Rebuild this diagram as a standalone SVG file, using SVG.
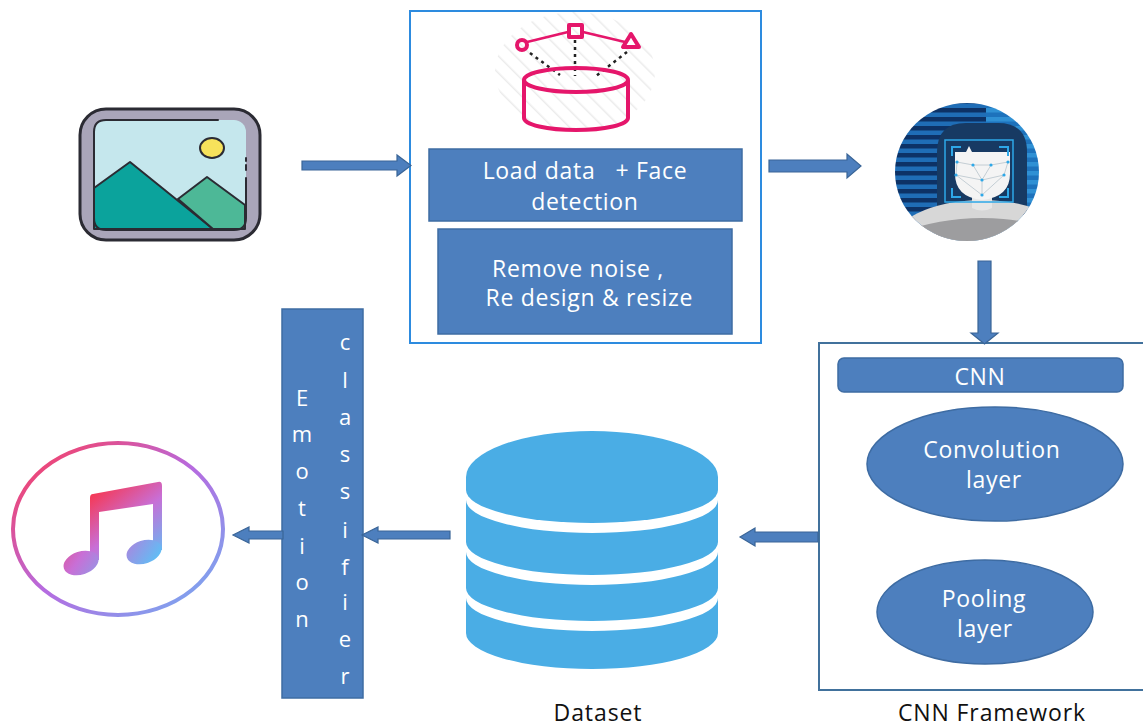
<svg xmlns="http://www.w3.org/2000/svg" width="1143" height="728" viewBox="0 0 1143 728">
  <style>
    .lbl { font-family: "Open Sans", "Liberation Sans", sans-serif; fill: #ffffff; font-size: 23px; letter-spacing: 0.7px; text-anchor: middle; white-space: pre; }
    .ltr { font-family: "Open Sans", "Liberation Sans", sans-serif; fill: #ffffff; font-size: 22px; text-anchor: middle; }
    .cap { font-family: "Open Sans", "Liberation Sans", sans-serif; fill: #111111; font-size: 23px; letter-spacing: 0.9px; text-anchor: middle; }
    .blk { fill: #4D7FBE; stroke: #3E6CA3; stroke-width: 1.5; }
    .arrow { fill: #4D7FBE; stroke: #3A6597; stroke-width: 1.2; }
    .pink { fill: none; stroke: #E5166B; stroke-width: 4; stroke-linejoin: round; }
    .dot { fill: none; stroke: #222222; stroke-width: 2.5; stroke-dasharray: 3 4; }
    .db { fill: #4AADE5; }
    .mesh { fill: none; stroke: #b8c4cc; stroke-width: 0.8; }
    .md { fill: #2EA8E8; }
    .ink { fill: none; stroke: #2B2B33; stroke-width: 2; stroke-linecap: round; }
  </style>
  <defs>
    <linearGradient id="ringGrad" x1="0" y1="0" x2="1" y2="1">
      <stop offset="0" stop-color="#FF3A55"/>
      <stop offset="0.5" stop-color="#B66BE0"/>
      <stop offset="1" stop-color="#6FB2F2"/>
    </linearGradient>
    <linearGradient id="noteGrad" gradientUnits="userSpaceOnUse" x1="95" y1="480" x2="160" y2="565">
      <stop offset="0" stop-color="#FF2D3A"/>
      <stop offset="0.5" stop-color="#C86FD6"/>
      <stop offset="1" stop-color="#55C6F8"/>
    </linearGradient>
    <pattern id="hatch" width="12" height="12" patternUnits="userSpaceOnUse" patternTransform="rotate(-45)">
      <rect width="12" height="12" fill="#ffffff"/>
      <line x1="0" y1="0" x2="0" y2="12" stroke="#ececec" stroke-width="3"/>
    </pattern>
    <pattern id="stripeDark" width="10" height="9" patternUnits="userSpaceOnUse">
      <rect width="10" height="9" fill="#0D3266"/>
      <rect y="4.5" width="10" height="4.5" fill="#1F6DB6"/>
    </pattern>
    <pattern id="stripeLight" width="10" height="9" patternUnits="userSpaceOnUse">
      <rect width="10" height="9" fill="#2F90D4"/>
      <rect y="4.5" width="10" height="4.5" fill="#1D72BC"/>
    </pattern>
    <clipPath id="faceClip">
      <ellipse cx="967" cy="172" rx="72" ry="69"/>
    </clipPath>
    <clipPath id="hatchClip">
      <ellipse cx="575" cy="72" rx="80" ry="60"/>
    </clipPath>
  </defs>

  <rect width="1143" height="728" fill="#ffffff"/>

  <!-- input image icon -->
  <g id="image-input">
    <rect x="80" y="109" width="180" height="131" rx="26" fill="#A9A5B9" stroke="#2B2B33" stroke-width="3"/>
    <rect x="94" y="120" width="152" height="110" rx="12" fill="#C5E7ED"/>
    <polygon points="94,188 130,162 213,229 94,229" fill="#0BA39C" stroke="#2B2B33" stroke-width="2" stroke-linejoin="round"/>
    <polygon points="178,199 207,177 245,205 245,229 213,229" fill="#4DB897" stroke="#2B2B33" stroke-width="2" stroke-linejoin="round"/>
    <path class="ink" d="M218,120 L106,120 Q94,120 94,132 L94,218 Q94,230 106,230 L234,230 Q246,230 246,218 L246,178"/>
    <path class="ink" d="M246,158 L246,161 M246,165 L246,170"/>
    <ellipse cx="212" cy="148" rx="12" ry="10" fill="#F7E25B" stroke="#2B2B33" stroke-width="2"/>
  </g>

  <!-- preprocessing panel -->
  <g id="preprocess">
    <rect x="410" y="11" width="351" height="332" fill="#ffffff" stroke="#2D8BDF" stroke-width="2"/>
    <g clip-path="url(#hatchClip)">
      <rect x="490" y="10" width="170" height="125" fill="url(#hatch)"/>
    </g>
    <!-- data icon -->
    <line x1="527" y1="42" x2="568" y2="32" stroke="#E5166B" stroke-width="2.5"/>
    <line x1="583" y1="32" x2="625" y2="42" stroke="#E5166B" stroke-width="2.5"/>
    <path class="dot" d="M530,53 L560,75"/>
    <path class="dot" d="M575,40 L575,76"/>
    <path class="dot" d="M627,52 L596,76"/>
    <circle cx="522" cy="45" r="5" class="pink" stroke-width="3.5"/>
    <rect x="569" y="25" width="13" height="12" class="pink" stroke-width="3.5"/>
    <polygon points="631,34 623,47 639,47" class="pink" stroke-width="3.5"/>
    <ellipse cx="576" cy="80" rx="52" ry="12" class="pink"/>
    <path class="pink" d="M524,80 L524,118 A52,12 0 0 0 628,118 L628,80"/>

    <rect id="load-data" x="429" y="149" width="313" height="72" class="blk"/>
    <text class="lbl" x="585" y="179">Load data   + Face</text>
    <text class="lbl" x="585" y="210">detection</text>

    <rect id="remove-noise" x="438" y="229" width="294" height="105" class="blk" stroke="#37608F" stroke-width="2"/>
    <text class="lbl" x="578" y="277">Remove noise ,</text>
    <text class="lbl" x="586" y="306"> Re design &amp; resize</text>
  </g>

  <!-- face detection icon -->
  <g id="face-detect">
    <g clip-path="url(#faceClip)">
      <rect x="890" y="100" width="96" height="145" fill="url(#stripeDark)"/>
      <rect x="986" y="100" width="60" height="145" fill="url(#stripeLight)"/>
      <path d="M937,215 L937,152 Q937,123 966,123 L998,123 Q1027,123 1027,152 L1027,215 Z" fill="#173A63"/>
      <ellipse cx="982" cy="246" rx="92" ry="46" fill="#D7D7D7"/>
      <ellipse cx="982" cy="266" rx="110" ry="48" fill="#9D9D9F"/>
    </g>
    <path d="M972,195 L972,208 Q982,213 992,208 L992,195 Z" fill="#E6E6E6"/>
    <path d="M955,152 L966,152 L969,146 L972,152 L1010,152 L1010,174 Q1010,197 982,200 Q955,197 955,174 Z" fill="#F4F4F4"/>
    <path class="mesh" d="M957,162 L973,165 L991,165 L1008,162 M957,162 L956,175 L982,180 L1004,175 L1008,162 M973,165 L982,180 L991,165 M956,175 L982,195 L1004,175 M982,180 L982,195"/>
    <circle class="md" cx="957" cy="162" r="1.6"/>
    <circle class="md" cx="973" cy="165" r="1.6"/>
    <circle class="md" cx="991" cy="165" r="1.6"/>
    <circle class="md" cx="1008" cy="162" r="1.6"/>
    <circle class="md" cx="956" cy="175" r="1.6"/>
    <circle class="md" cx="982" cy="180" r="1.6"/>
    <circle class="md" cx="1004" cy="175" r="1.6"/>
    <circle class="md" cx="982" cy="195" r="1.6"/>
    <rect x="945" y="140" width="68" height="62" fill="none" stroke="#2EA8E8" stroke-width="1.5"/>
    <path d="M952,156 L952,147 L961,147 M999,147 L1008,147 L1008,156 M952,188 L952,197 L961,197 M999,197 L1008,197 L1008,188" fill="none" stroke="#2EA8E8" stroke-width="2"/>
  </g>

  <!-- CNN framework panel -->
  <g id="cnn-framework">
    <rect x="819" y="343" width="330" height="347" fill="#ffffff" stroke="#41719C" stroke-width="2"/>
    <rect id="cnn-bar" x="838" y="358" width="285" height="34" rx="6" class="blk"/>
    <text class="lbl" x="980" y="385">CNN</text>
    <ellipse id="conv" cx="995" cy="464" rx="128" ry="57" class="blk"/>
    <text class="lbl" x="992" y="458">Convolution</text>
    <text class="lbl" x="994" y="488">layer</text>
    <ellipse id="pool" cx="985" cy="612" rx="108" ry="52" class="blk"/>
    <text class="lbl" x="984" y="607">Pooling</text>
    <text class="lbl" x="985" y="637">layer</text>
    <text class="cap" x="992" y="721">CNN Framework</text>
  </g>

  <!-- dataset -->
  <g id="dataset">
    <path class="db" d="M466,477 A126,46 0 0 1 718,477 L718,490 A126,33 0 0 1 466,490 Z"/>
    <path class="db" d="M466,500 A126,33 0 0 0 718,500 L718,542 A126,33 0 0 1 466,542 Z"/>
    <path class="db" d="M466,552 A126,33 0 0 0 718,552 L718,588 A126,33 0 0 1 466,588 Z"/>
    <path class="db" d="M466,598 A126,33 0 0 0 718,598 L718,633 A126,36 0 0 1 466,633 Z"/>
    <text class="cap" x="598" y="721">Dataset</text>
  </g>

  <!-- emotion classifier -->
  <g id="emotion-classifier">
    <rect x="282" y="309" width="81" height="389" class="blk" stroke="#3A6597"/>
    <g class="ltr">
      <text x="302" y="406">E</text>
      <text x="302" y="442">m</text>
      <text x="302" y="479">o</text>
      <text x="302" y="516">t</text>
      <text x="302" y="554">i</text>
      <text x="302" y="590">o</text>
      <text x="302" y="627">n</text>
      <text x="345" y="350">c</text>
      <text x="345" y="388">l</text>
      <text x="345" y="425">a</text>
      <text x="345" y="462">s</text>
      <text x="345" y="499">s</text>
      <text x="345" y="538">i</text>
      <text x="345" y="575">f</text>
      <text x="345" y="610">i</text>
      <text x="345" y="647">e</text>
      <text x="345" y="684">r</text>
    </g>
  </g>

  <!-- music output -->
  <g id="music">
    <ellipse cx="118" cy="529" rx="105" ry="86" fill="#ffffff" stroke="url(#ringGrad)" stroke-width="4"/>
    <path fill="url(#noteGrad)" d="M93,494 Q90,494 90,498 L90,560 L99,560 L99,512 L153,504 L153,550 L162,550 L162,486 Q162,481 158,482 Z"/>
    <ellipse cx="81" cy="563" rx="18" ry="11.5" transform="rotate(-18 81 563)" fill="url(#noteGrad)"/>
    <ellipse cx="144" cy="552" rx="18" ry="11.5" transform="rotate(-18 144 552)" fill="url(#noteGrad)"/>
  </g>

  <!-- connectors -->
  <g id="connectors">
    <polygon class="arrow" points="302,161 397,161 397,155 411,165.5 397,176 397,170 302,170"/>
    <polygon class="arrow" points="769,160 847,160 847,154 861,166 847,178 847,172 769,172"/>
    <polygon class="arrow" points="978,261 991,261 991,333 998,333 984.5,344 971,333 978,333"/>
    <polygon class="arrow" points="818,532 755,532 755,528 740,537 755,546 755,542 818,542"/>
    <polygon class="arrow" points="450,531 378,531 378,527 362,535 378,543 378,539 450,539"/>
    <polygon class="arrow" points="283,531 249,531 249,527 233,535 249,543 249,539 283,539"/>
  </g>
</svg>
